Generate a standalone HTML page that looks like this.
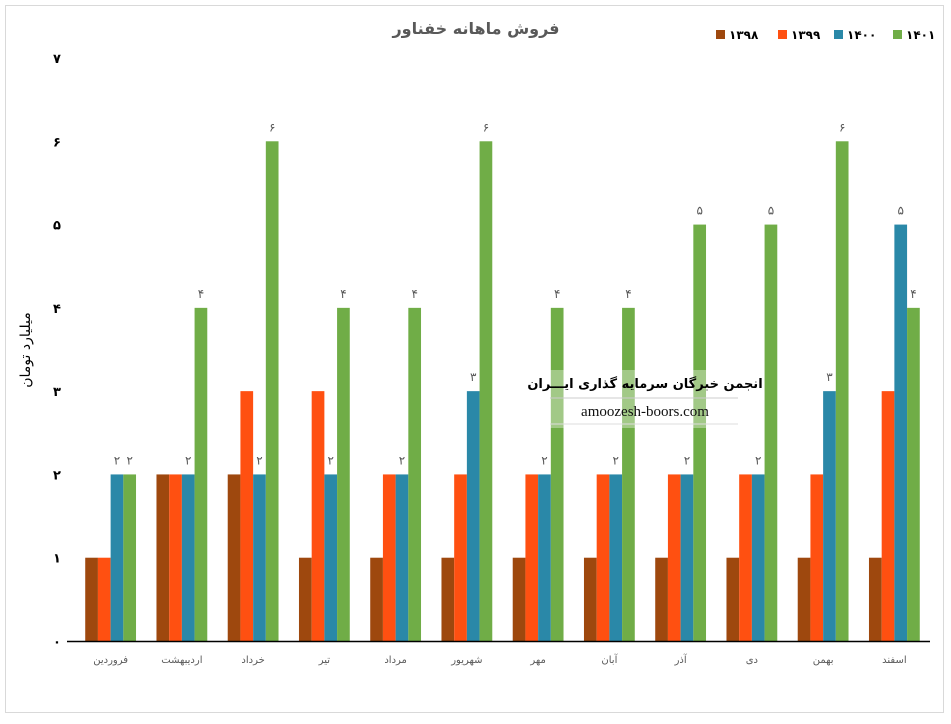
<!DOCTYPE html>
<html><head><meta charset="utf-8"><style>
body{margin:0;background:#fff;font-family:"Liberation Sans","Noto Sans CJK SC",sans-serif}
svg text{font-family:"DejaVu Sans","Liberation Sans",sans-serif}
</style></head><body>
<svg id="c" width="951" height="719">
<rect x="5.5" y="5.5" width="938" height="707" fill="#fff" stroke="#d9d9d9"/>
<text x="476" y="34" text-anchor="middle" font-size="16" font-weight="bold" fill="#595959">فروش ماهانه خفناور</text>
<text transform="translate(30,350) rotate(-90)" text-anchor="middle" font-size="14" fill="#000">میلیارد تومان</text>
<g id="legend"></g><g id="grid"></g><g id="bars"></g>
<line x1="67" y1="641.5" x2="930" y2="641.5" stroke="#000" stroke-width="1.5"/>
<g>
<rect x="550" y="370" width="190" height="58" fill="#fff" opacity="0.35"/>
<line x1="550" y1="398" x2="738" y2="398" stroke="#ccc"/>
<line x1="550" y1="424" x2="738" y2="424" stroke="#ddd"/>
<text x="645" y="388" text-anchor="middle" font-size="13" font-weight="bold" fill="#000">انجمن خبرگان سرمایه گذاری ایـــران</text>
<text x="645" y="416" text-anchor="middle" font-size="15" fill="#111" style="font-family:'Liberation Serif',serif">amoozesh-boors.com</text>
</g>
</svg>
<script>
const categories=["فروردین","اردیبهشت","خرداد","تیر","مرداد","شهریور","مهر","آبان","آذر","دی","بهمن","اسفند"];
const seriesNames=["۱۳۹۸","۱۳۹۹","۱۴۰۰","۱۴۰۱"];
const s1398=[1,2,2,1,1,1,1,1,1,1,1,1];
const s1399=[1,2,3,3,2,2,2,2,2,2,2,3];
const s1400=[2,2,2,2,2,3,2,2,2,2,3,5];
const s1401=[2,4,6,4,4,6,4,4,5,5,6,4];
const yTicks=[0,1,2,3,4,5,6,7];
const colors=["#9e480e","#ff5011","#2a88a8","#70ad47"];
const ns="http://www.w3.org/2000/svg";
const fa=n=>String(n).replace(/\d/g,d=>"۰۱۲۳۴۵۶۷۸۹"[d]);
const x0=75,x1=930,y0=641,y1=58,ymax=7;
const bw=(x1-x0)/categories.length;
const y=v=>y0-(v/ymax)*(y0-y1);
const xc=i=>x0+bw*(i+0.5);
function mk(t,a,p){const e=document.createElementNS(ns,t);for(const k in a)e.setAttribute(k,a[k]);p.appendChild(e);return e;}
const grid=document.getElementById('grid');
yTicks.forEach(t=>{
 const tx=mk('text',{x:57,y:y(t)+5,'text-anchor':'middle','font-size':13,'font-weight':'bold',fill:'#000'},grid);
 
 
 tx.textContent=fa(t);
});
const bars=document.getElementById('bars');
const series=[s1398,s1399,s1400,s1401];
const barW=12.7;
categories.forEach((c,i)=>{
 const left=xc(i)-barW*2;
 series.forEach((s,j)=>{
  const r=mk('rect',{x:left+j*barW,y:y(s[i]),width:barW,height:y0-y(s[i]),fill:colors[j]},bars);
  
  
  if(j>=2){
   const l=mk('text',{x:left+j*barW+barW/2,y:y(s[i])-10,'text-anchor':'middle','font-size':12,fill:'#595959'},bars);
   
   
   l.textContent=fa(s[i]);
  }
 });
 const t=mk('text',{x:xc(i),y:663,'text-anchor':'middle','font-size':10,fill:'#595959'},bars);
 
 
 t.textContent=c;
});
const lg=document.getElementById('legend');
const lx=[716,778,834,893];
seriesNames.forEach((n,j)=>{
 const g=mk('g',{},lg);
 
 
 mk('rect',{x:lx[j],y:30,width:9,height:9,fill:colors[j]},g);
 const t=mk('text',{x:lx[j]+13,y:39,'font-size':12,'font-weight':'bold',fill:'#000'},g);
 t.textContent=n;
});
</script>
</body></html>
